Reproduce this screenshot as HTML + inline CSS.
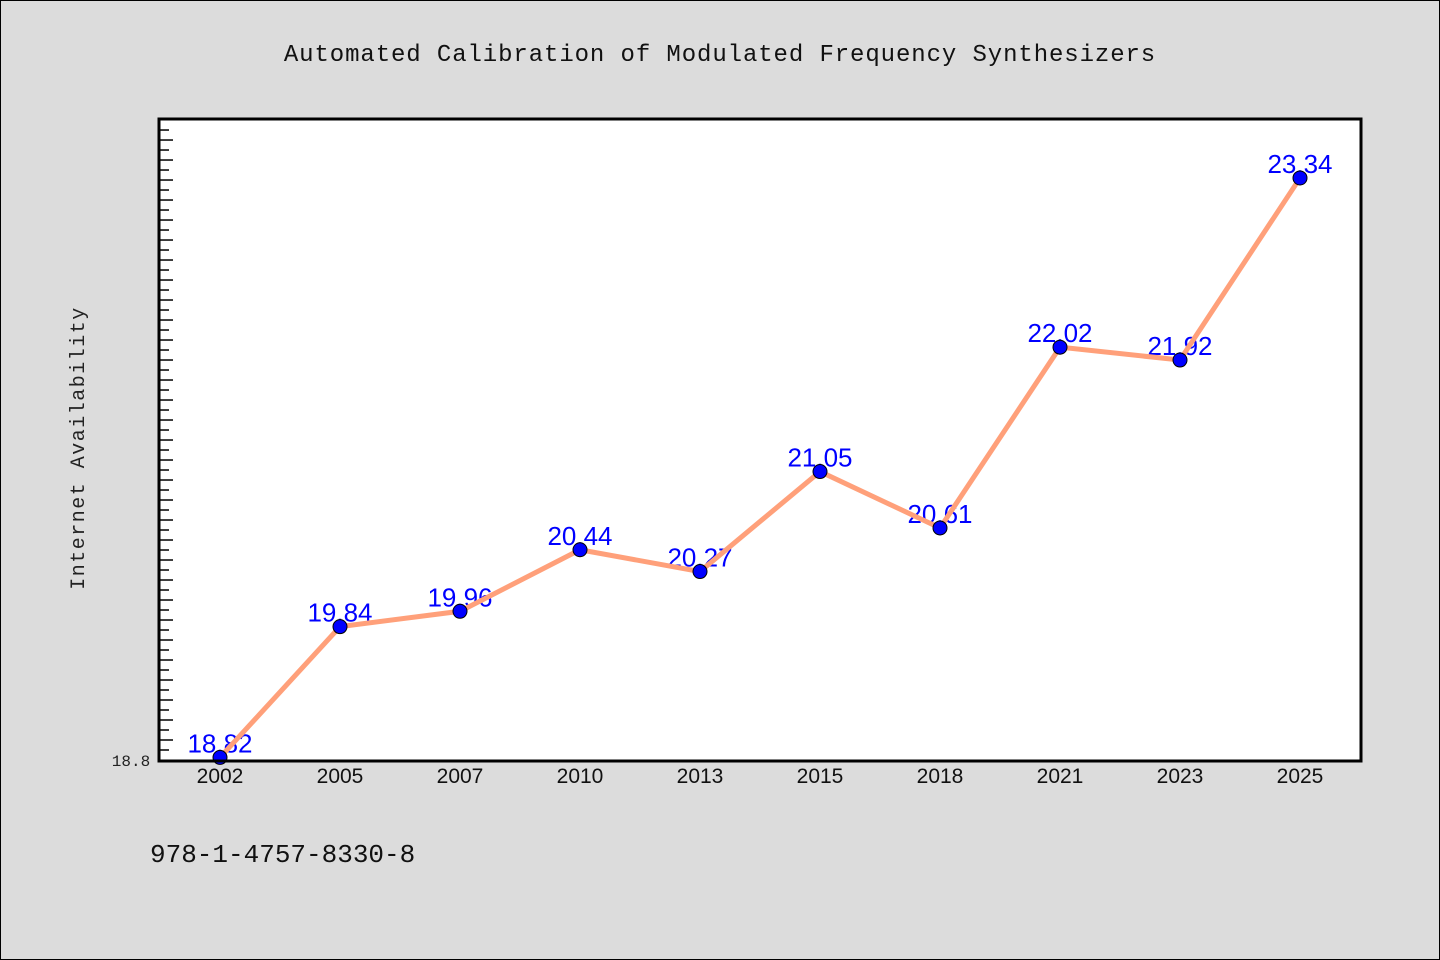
<!DOCTYPE html>
<html><head><meta charset="utf-8"><style>
body{margin:0;background:#dcdcdc;}
svg{display:block;}
</style></head><body>
<svg width="1440" height="960" xmlns="http://www.w3.org/2000/svg">
<rect x="0.5" y="0.5" width="1439" height="959" fill="#dcdcdc" stroke="#000"/>
<text x="720" y="61" text-anchor="middle" font-family="'Liberation Mono', monospace" font-size="24" letter-spacing="0.9" fill="#111">Automated Calibration of Modulated Frequency Synthesizers</text>
<rect x="159" y="119" width="1202" height="642" fill="#fff"/>
<g id="yticks"></g>
<g id="xlabels"></g>
<g id="vlabels"></g>
<polyline id="line" fill="none" stroke="#ffa07a" stroke-width="5"/>
<g id="points"></g>
<rect x="159" y="119" width="1202" height="642" fill="none" stroke="#000" stroke-width="3"/>
<text x="131" y="766" text-anchor="middle" font-family="'Liberation Mono', monospace" font-size="16" fill="#222">18.8</text>
<text x="84" y="448" text-anchor="middle" transform="rotate(-90 84 448)" font-family="'Liberation Mono', monospace" font-size="20" letter-spacing="1.5" fill="#222">Internet Availability</text>
<text x="150" y="862" font-family="'Liberation Mono', monospace" font-size="26" fill="#111">978-1-4757-8330-8</text>
</svg>
<script>
const categories=["2002","2005","2007","2010","2013","2015","2018","2021","2023","2025"];
const values=[18.82,19.84,19.96,20.44,20.27,21.05,20.61,22.02,21.92,23.34];
const valueLabels=["18.82","19.84","19.96","20.44","20.27","21.05","20.61","22.02","21.92","23.34"];
const yMin=18.8, yMax=23.8;
const NS="http://www.w3.org/2000/svg";
const plotLeft=159,plotTop=119,plotBottom=760;
function xPos(i){return 220+i*(1300-220)/(categories.length-1);}
function yPos(v){return plotBottom-(v-yMin)/(yMax-yMin)*(plotBottom-plotTop);}
function mk(t,a,p){const e=document.createElementNS(NS,t);for(const k in a)e.setAttribute(k,a[k]);p.appendChild(e);return e;}
const yt=document.getElementById('yticks');
for(let k=1;k<100;k++){const y=yPos(yMin+k*0.078);if(y<plotTop+4)break;
 const l=mk('line',{x1:plotLeft,x2:plotLeft+(k%2?10:14),y1:y,y2:y,stroke:'#000','stroke-width':1.5},yt);
 
 }
const xl=document.getElementById('xlabels'),vl=document.getElementById('vlabels'),pts=document.getElementById('points');
let pstr=[];
categories.forEach((c,i)=>{
 const x=xPos(i),y=yPos(values[i]);pstr.push(x+','+y);
 const t=mk('text',{x:x,y:783,'text-anchor':'middle','font-family':"'Liberation Sans Narrow','Liberation Sans',sans-serif",'font-size':21,fill:'#111'},xl);t.textContent=c;
 
 
 const v=mk('text',{x:x,y:y-5,'text-anchor':'middle','font-family':"'Liberation Sans',sans-serif",'font-size':26,fill:'#0000ff'},vl);v.textContent=valueLabels[i];
 
 
 const p=mk('circle',{cx:x,cy:y,r:7,fill:'#0000ff',stroke:'#000','stroke-width':1},pts);
 
 
});
document.getElementById('line').setAttribute('points',pstr.join(' '));
</script>
</body></html>
